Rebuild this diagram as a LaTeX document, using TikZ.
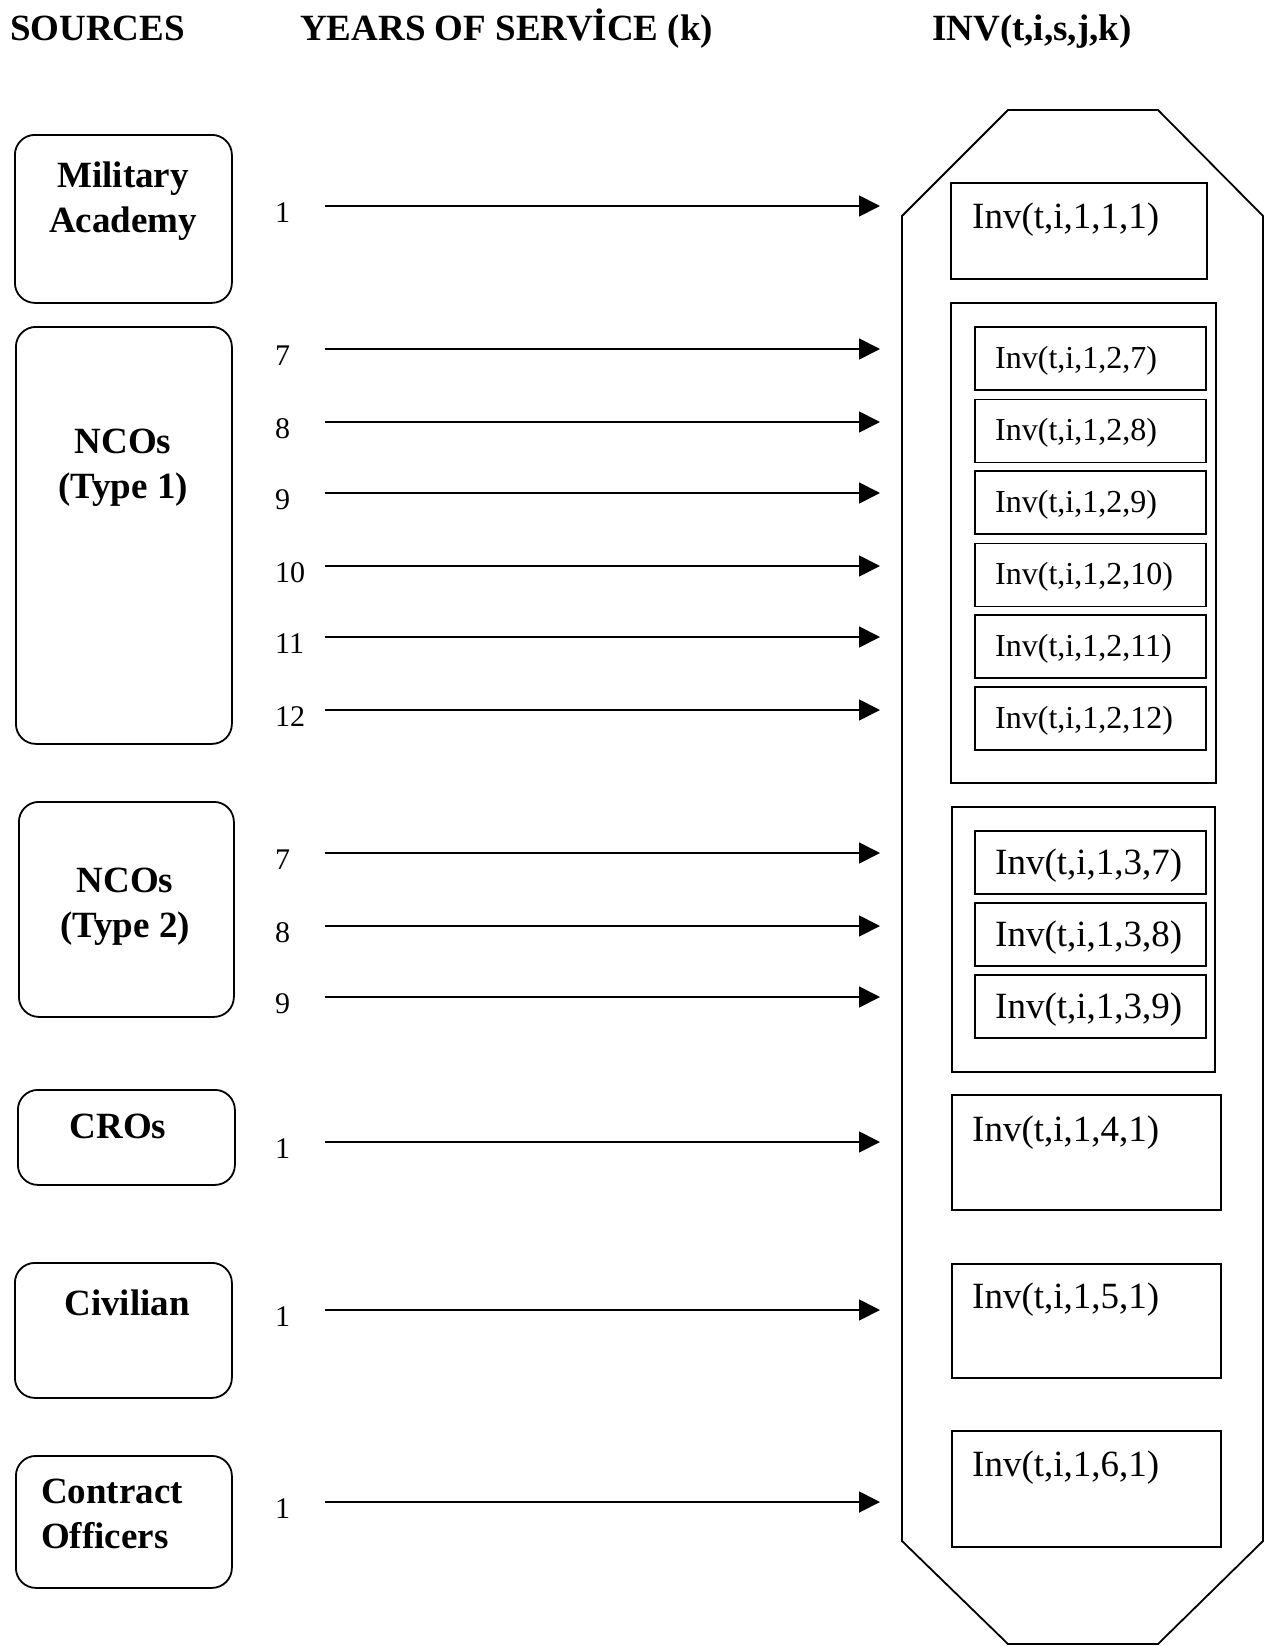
\documentclass[tikz,border=0pt]{standalone}
\usepackage{fontspec}
\setmainfont{Liberation Serif}
\usetikzlibrary{arrows.meta}
\newcommand\myfs[1]{\fontsize{#1}{1.19\dimexpr#1pt\relax}\selectfont}
\begin{document}
\begin{tikzpicture}[x=1pt,y=-1pt,
  lw/.style={line width=1.8pt},
  srcbox/.style={draw, lw, rounded corners=20pt, inner sep=0pt, anchor=north west},
  invbox/.style={draw, lw, inner sep=0pt, anchor=north west},
  title/.style={font=\myfs{37}\bfseries, anchor=base west, inner sep=0pt},
  srctext/.style={font=\myfs{37}\bfseries, align=center, anchor=base, inner sep=0pt},
  num/.style={font=\myfs{30}, anchor=base west, inner sep=0pt},
  invbig/.style={font=\myfs{37}, anchor=base west, inner sep=0pt},
  invsmall/.style={font=\myfs{32}, anchor=base west, inner sep=0pt},
  arr/.style={lw, -{Triangle[length=21pt,width=21pt]}}]
\useasboundingbox (0,0) rectangle (1270,1646);
% titles
\node[title] (t1) at (10,41) {SOURCES};
\node[title] (t2) at (300,41) {YEARS OF SERVİCE (k)};
\node[title] (t3) at (932,41) {INV(t,i,s,j,k)};
% source boxes
\node[srcbox, minimum width=217pt, minimum height=168pt] (ma) at (14,134) {};
\node[srcbox, minimum width=216pt, minimum height=417pt] (nco1) at (15,326) {};
\node[srcbox, minimum width=215pt, minimum height=215pt] (nco2) at (18,801) {};
\node[srcbox, minimum width=217pt, minimum height=95pt] (cro) at (17,1089) {};
\node[srcbox, minimum width=217pt, minimum height=135pt] (civ) at (14,1262) {};
\node[srcbox, minimum width=216pt, minimum height=132pt] (con) at (15,1455) {};
% (base anchor of a two-line node = baseline of its last line)
\node[srctext] (mat) at (123,232) {Military\\Academy};
\node[srctext] (nco1t) at (123,498) {NCOs\\(Type 1)};
\node[srctext] (nco2t) at (125,937) {NCOs\\(Type 2)};
\node[srctext] (crot) at (118,1138) {CROs};
\node[srctext] (civt) at (127,1315) {Civilian};
\node[srctext, align=left, anchor=base west] (cont) at (41,1548) {Contract\\Officers};
% octagon
\draw[lw] (1008,110) -- (1158,110) -- (1263,216) -- (1263,1541) -- (1158,1644)
  -- (1008,1644) -- (902,1541) -- (902,216) -- cycle;
% inv boxes
\node[invbox, minimum width=256pt, minimum height=96pt] (b11) at (950,182) {};
\node[invbox, minimum width=265pt, minimum height=480pt] (g1) at (950,302) {};
\node[invbox, minimum width=263pt, minimum height=265pt] (g2) at (951,806) {};
\node[invbox, minimum width=269pt, minimum height=115pt] (b41) at (951,1094) {};
\node[invbox, minimum width=269pt, minimum height=114pt] (b51) at (951,1263) {};
\node[invbox, minimum width=269pt, minimum height=116pt] (b61) at (951,1430) {};
\node[invbig] (b11t) at (972,228) {Inv(t,i,1,1,1)};
\node[invbig] (b41t) at (972,1141) {Inv(t,i,1,4,1)};
\node[invbig] (b51t) at (972,1308) {Inv(t,i,1,5,1)};
\node[invbig] (b61t) at (972,1476) {Inv(t,i,1,6,1)};
% group 1 inner
\foreach \k/\y in {7/326,8/398.5,9/470,10/542.5,11/614,12/686}{
  \node[invbox, minimum width=231pt, minimum height=63pt] (g1b\k) at (974,\y) {};
  \node[invsmall] (g1t\k) at (995,\y+42) {Inv(t,i,1,2,\k)};
}
% group 2 inner
\foreach \k/\y in {7/830,8/902,9/974}{
  \node[invbox, minimum width=231pt, minimum height=63pt] (g2b\k) at (974,\y) {};
  \node[invbig] (g2t\k) at (995,\y+44) {Inv(t,i,1,3,\k)};
}
% arrows and year labels
\foreach \i/\n/\y in {a/1/206, b/7/349, c/8/422, d/9/493, e/10/566, f/11/637, g/12/710,
                      h/7/853, i/8/926, j/9/997, k/1/1142, l/1/1310, m/1/1502}{
  \node[num] (n\i) at (275,\y+16) {\n};
  \coordinate (s\i) at (325,\y);
  \coordinate (e\i) at (880,\y);
  \draw[arr] (s\i) -- (e\i);
}
\end{tikzpicture}
\end{document}
